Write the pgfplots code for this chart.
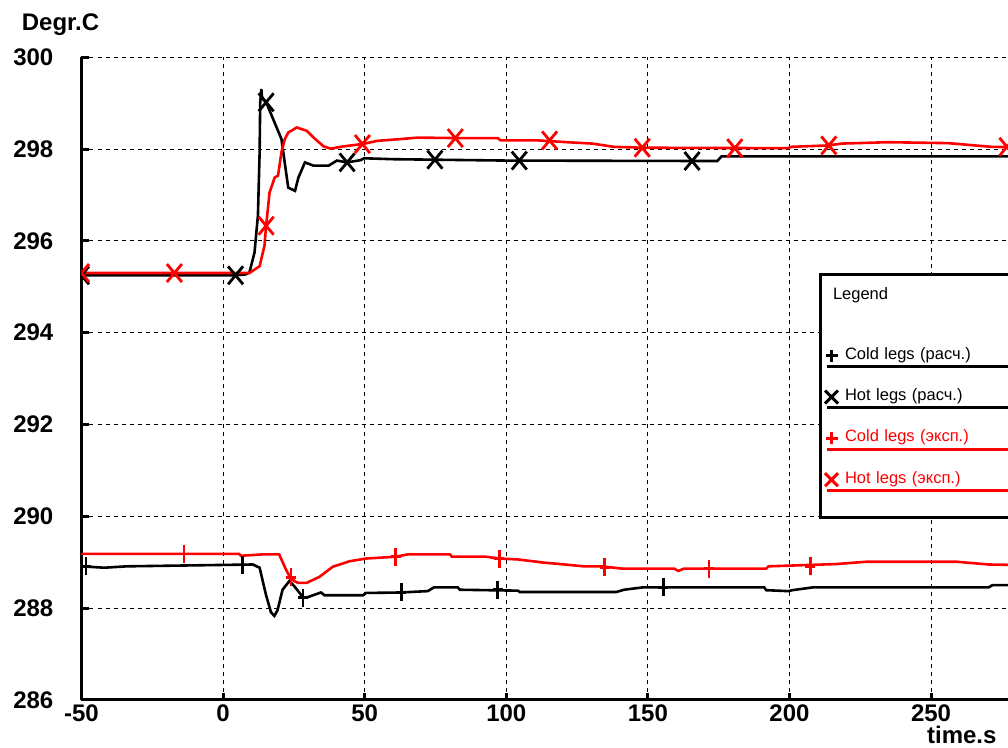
\documentclass[border=0pt]{standalone}
\usepackage{pgfplots}
\pgfplotsset{compat=1.18}
\usepackage{fontspec}
\setmainfont{Liberation Sans}
\begin{document}
\begin{tikzpicture}
\useasboundingbox (-81.5pt,-47.1pt) rectangle (926.5pt,699.9pt);
\clip (-81.5pt,-47.1pt) rectangle (926.5pt,699.9pt);
\begin{axis}[
  at={(0pt,0pt)}, anchor=south west,
  scale only axis, width=934.5pt, height=642.6pt,
  xmin=-50, xmax=280, ymin=286, ymax=300,
  axis x line*=bottom, axis y line*=left,
  axis line style={line width=3pt, black},
  xtick={-50,0,50,100,150,200,250},
  xticklabels={-50,0,50,100,150,200,250},
  ytick={286,288,290,292,294,296,298,300},
  yticklabels={286,288,290,292,294,296,298,300},
  tick style={line width=3pt, black},
  major tick length=7pt,
  tick label style={font=\fontsize{24}{24}\selectfont\bfseries, inner sep=0pt},
  xticklabel style={anchor=north, yshift=-5pt},
  yticklabel style={anchor=east, xshift=-28pt},
  grid=major,
  major grid style={line width=1pt, black, dash pattern=on 4pt off 4pt},
  xlabel={time.s}, ylabel={Degr.C},
  every axis x label/.style={at={(axis description cs:0.9793,-0.0675)}, anchor=base east, inner sep=0pt, font=\fontsize{24}{24}\selectfont\bfseries},
  every axis y label/.style={at={(axis description cs:-0.0640,1.0414)}, anchor=base west, inner sep=0pt, font=\fontsize{24}{24}\selectfont\bfseries},
  clip mode=individual, clip marker paths=true,
  legend style={at={(axis description cs:0.7892,0.6639)}, anchor=north west,
    draw=black, line width=3pt, fill=white,
    inner xsep=3pt, inner ysep=13.7pt,
    row sep=22.3pt, column sep=4pt,
    font=\fontsize{16.5}{18}\selectfont,
    nodes={inner sep=0pt, text height=13pt, text depth=6pt, text width=200pt, anchor=base west},
    cells={anchor=base west}},
]
% black hot (calc) line
\addplot[black, line width=2.6pt, forget plot] coordinates {
(-50,295.25) (4,295.25) (8,295.27) (9.3,295.31) (11.1,295.75) (12.3,296.55) (12.9,297.93)
(13.1,299.0) (13.5,299.31) (13.8,299.1) (15.2,299.02) (20.6,298.22) (23.0,297.16) (25.4,297.09)
(26.6,297.38) (28.9,297.71) (31.9,297.64) (37.3,297.64) (40.2,297.75) (43.8,297.71) (48.6,297.76)
(49.8,297.80) (60,297.78) (100,297.75) (174.5,297.74) (176,297.84) (280,297.84)};
% black cold (calc) line
\addplot[black, line width=2.6pt, forget plot] coordinates {
(-50,288.91) (-42,288.88) (-34,288.91) (10.5,288.95) (12.9,288.88) (15.1,288.30) (16.9,287.91)
(18.1,287.83) (19.2,287.95) (21.0,288.40) (23.4,288.59) (25.1,288.48) (26.9,288.34) (28.2,288.23)
(30.0,288.24) (32.2,288.29) (34.6,288.34) (35.8,288.28) (49.4,288.28) (50.5,288.33) (62.5,288.34)
(72.3,288.37) (74.4,288.45) (82.9,288.45) (83.6,288.40) (104.1,288.38) (104.8,288.35) (138.8,288.35)
(141.6,288.40) (148,288.45) (191.1,288.45) (191.8,288.39) (199.6,288.37) (201,288.39) (208.1,288.45)
(270.3,288.45) (271.7,288.50) (280,288.50)};
% red hot (exp) line
\addplot[red, line width=2.6pt, forget plot] coordinates {
(-50,295.30) (9.3,295.30) (12.9,295.45) (14.6,295.89) (15.2,296.33) (16.4,297.05) (18.2,297.38)
(19.4,297.42) (20.6,297.93) (21.8,298.22) (23.0,298.36) (26.0,298.47) (29.5,298.40) (32.5,298.22)
(35.5,298.06) (37.9,298.01) (42.6,298.06) (49.2,298.11) (54.5,298.18) (62.9,298.22) (68.8,298.25)
(83.1,298.24) (97,298.24) (98,298.19) (111,298.19) (121.6,298.15) (130.4,298.12) (137.9,298.05)
(148,298.03) (199.5,298.02) (200.8,298.05) (213.9,298.08) (218.3,298.12) (234.7,298.15) (256,298.13)
(271.1,298.05) (280,298.04)};
% red cold (exp) line
\addplot[red, line width=2.6pt, forget plot] coordinates {
(-50,289.18) (5.7,289.18) (6.3,289.14) (14,289.17) (19.8,289.17) (22.2,288.84) (23.4,288.70)
(25.1,288.59) (26.5,288.55) (29.5,288.55) (34.0,288.68) (38.7,288.90) (44.6,289.02) (50.5,289.08)
(61,289.12) (65.2,289.17) (80.1,289.17) (80.8,289.12) (92.8,289.12) (97.5,289.08) (104.1,289.06)
(113.3,288.99) (119,288.96) (127.4,288.91) (133.8,288.91) (140.9,288.86) (159.3,288.86) (160.7,288.81)
(162.8,288.86) (191.8,288.86) (192.6,288.91) (216.5,288.96) (227.2,289.01) (259,289.01) (270.3,288.95)
(280,288.94)};
% legend title
\addlegendimage{legend image code/.code={\path[draw=none,fill=none] (0pt,11.5pt) -- (0pt,-24pt);}}
\addlegendentry[overlay, xshift=-12pt]{Legend}
% markers
\addplot[only marks, black, line width=2.8pt, mark=+, mark size=9pt, mark options={xscale=0.56, solid},
  legend image code/.code={\draw[black,line width=3pt,overlay] (-4.5pt,-7.3pt) -- (300pt,-7.3pt);
    \draw[black,line width=3pt] (-6pt,3.5pt) -- (6pt,3.5pt) (0pt,-2.5pt) -- (0pt,9.5pt);}]
  coordinates {(-48.4,288.91) (6.8,288.94) (28.2,288.23) (62.9,288.34) (97,288.40) (155.4,288.45)};
\addlegendentry{Cold legs (расч.)}
\addplot[only marks, black, line width=2.8pt, mark=x, mark size=10.6pt, mark options={yscale=1.2, solid},
  legend image code/.code={\draw[black,line width=3pt,overlay] (-4.5pt,-7.3pt) -- (300pt,-7.3pt);
    \draw[black,line width=3pt] (-6.5pt,-3pt) -- (6.5pt,10pt) (-6.5pt,10pt) -- (6.5pt,-3pt);}]
  coordinates {(-50,295.25) (4.4,295.25) (15.2,299.02) (43.8,297.71) (74.8,297.77) (104.6,297.75) (165.6,297.74)};
\addlegendentry{Hot legs (расч.)}
\addplot[only marks, red, line width=2.8pt, mark=+, mark size=9pt, mark options={xscale=0.56, solid},
  legend image code/.code={\draw[red,line width=3pt,overlay] (-4.5pt,-7.3pt) -- (300pt,-7.3pt);
    \draw[red,line width=3pt] (-6pt,3.5pt) -- (6pt,3.5pt) (0pt,-2.5pt) -- (0pt,9.5pt);}]
  coordinates {(-13.8,289.18) (24.0,288.67) (61,289.12) (97.5,289.08) (134.8,288.89) (171.6,288.86) (207.4,288.91)};
\addlegendentry[text=red]{Cold legs (эксп.)}
\addplot[only marks, red, line width=2.8pt, mark=x, mark size=10.6pt, mark options={yscale=1.2, solid},
  legend image code/.code={\draw[red,line width=3pt,overlay] (-4.5pt,-7.3pt) -- (300pt,-7.3pt);
    \draw[red,line width=3pt] (-6.5pt,-3pt) -- (6.5pt,10pt) (-6.5pt,10pt) -- (6.5pt,-3pt);}]
  coordinates {(-50,295.30) (-17.2,295.30) (15.2,296.33) (49.2,298.11) (82,298.24) (115.3,298.19) (148,298.03) (180.7,298.02) (213.9,298.08) (276.8,298.05)};
\addlegendentry[text=red, text depth=20.7pt]{Hot legs (эксп.)}
\end{axis}
\end{tikzpicture}
\end{document}
